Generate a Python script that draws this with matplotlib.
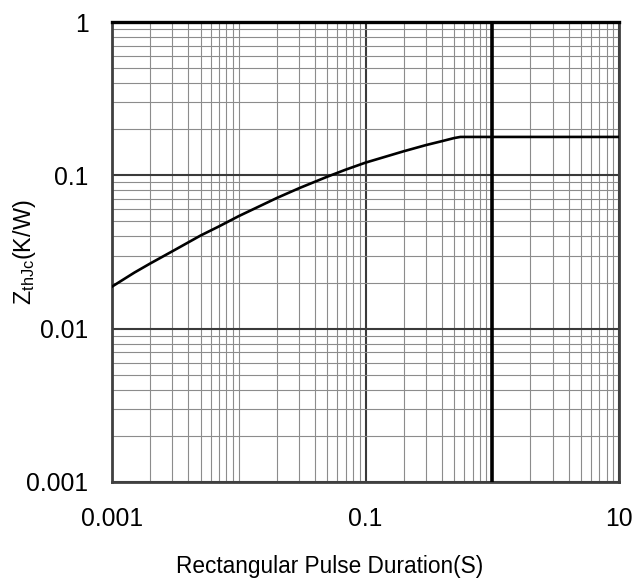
import matplotlib
matplotlib.use("Agg")
import matplotlib.pyplot as plt
from matplotlib.ticker import FixedLocator, FixedFormatter, NullFormatter

plt.rcParams['font.family'] = ['Liberation Sans', 'DejaVu Sans']

# data
pulse_s = [0.001, 0.0015, 0.002, 0.003, 0.005, 0.007, 0.01, 0.02, 0.03, 0.05, 0.07,
           0.1, 0.2, 0.3, 0.4, 0.5, 0.56, 10]
zthjc = [0.0188, 0.0232, 0.0266, 0.0320, 0.0405, 0.0465, 0.0542, 0.0712, 0.0825, 0.098,
         0.109, 0.121, 0.1435, 0.1575, 0.167, 0.175, 0.178, 0.178]

x_ticks = [0.001, 0.1, 10]
x_tick_labels = ["0.001", "0.1", "10"]
y_ticks = [0.001, 0.01, 0.1, 1]
y_tick_labels = ["0.001", "0.01", "0.1", "1"]
marker_x = 1.0

fig = plt.figure(figsize=(6.35, 5.88), dpi=100)
ax = fig.add_axes([112/635, 1 - 482/588, (619-112)/635, (482-22)/588])
ax.set_xscale('log')
ax.set_yscale('log')
ax.set_xlim(0.001, 10)
ax.set_ylim(0.001, 1)

# minor grid
xminor = [m * 10.0**k for k in range(-3, 1) for m in range(2, 11)]
yminor = [m * 10.0**k for k in range(-3, 0) for m in range(2, 10)]
ax.xaxis.set_minor_locator(FixedLocator(xminor))
ax.yaxis.set_minor_locator(FixedLocator(yminor))
ax.xaxis.set_minor_formatter(NullFormatter())
ax.yaxis.set_minor_formatter(NullFormatter())
ax.xaxis.set_major_locator(FixedLocator(x_ticks))
ax.xaxis.set_major_formatter(FixedFormatter(x_tick_labels))
ax.yaxis.set_major_locator(FixedLocator(y_ticks))
ax.yaxis.set_major_formatter(FixedFormatter(y_tick_labels))

ax.grid(which='minor', color='#8c8c8c', linewidth=0.8)
ax.grid(which='major', color='#3a3a3a', linewidth=1.5)
ax.set_axisbelow(True)

ax.axvline(marker_x, color='black', linewidth=2.6, zorder=3)
ax.plot(pulse_s, zthjc, color='black', linewidth=1.9, zorder=4,
        solid_joinstyle='round')

ax.tick_params(which='both', length=0)
ax.tick_params(axis='x', labelsize=17.8, pad=18)
ax.tick_params(axis='y', labelsize=17.8, pad=17)

for s in ['left', 'right', 'bottom']:
    ax.spines[s].set_color('#404040')
    ax.spines[s].set_linewidth(2.0)
ax.spines['top'].set_color('black')
ax.spines['top'].set_linewidth(2.4)

fig.text(330/635, 1 - 567/588, "Rectangular Pulse Duration(S)", fontsize=16.3,
         ha='center', va='center')
fig.text(24/635, 1 - 252/588, r"Z$_{\mathregular{thJc}}$(K/W)", fontsize=16.8,
         rotation=90, ha='center', va='center')

fig.savefig("out.png", dpi=100)
